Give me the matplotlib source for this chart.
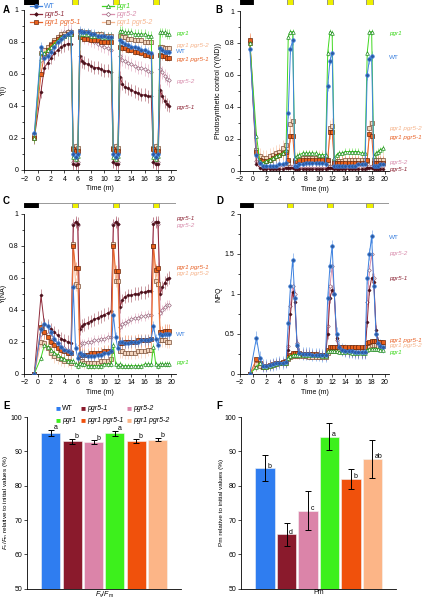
import numpy as np
import matplotlib
matplotlib.use('Agg')
import matplotlib.pyplot as plt
from matplotlib.patches import Rectangle
from matplotlib.lines import Line2D
from matplotlib.ticker import MultipleLocator
from matplotlib.colors import to_rgba

plt.rcParams['font.family'] = ['Liberation Sans', 'DejaVu Sans']
plt.rcParams['mathtext.fontset'] = 'custom'
plt.rcParams['mathtext.rm'] = 'Liberation Sans'
plt.rcParams['mathtext.it'] = 'Liberation Sans:italic'
plt.rcParams['font.size'] = 5
plt.rcParams['axes.linewidth'] = 0.6

# ---------------- data ----------------
time = [-0.5,
        0.5, 1, 1.5, 2, 2.5, 3, 3.5, 4, 4.5, 5,
        5.33, 5.67, 6,
        6.33, 6.67, 7, 7.5, 8, 8.5, 9, 9.5, 10, 10.5, 11,
        11.33, 11.67, 12,
        12.33, 12.67, 13, 13.5, 14, 14.5, 15, 15.5, 16, 16.5, 17,
        17.33, 17.67, 18,
        18.33, 18.67, 19, 19.33, 19.67]

genotypes = ['WT', 'pgr5-1', 'pgr5-2', 'pgr1', 'pgr1 pgr5-1', 'pgr1 pgr5-2']

# Y(I)
yI_wt = [0.23, 0.77, 0.70, 0.71, 0.74, 0.77, 0.80, 0.82, 0.84, 0.85, 0.86, 0.10, 0.08, 0.10,
         0.87, 0.86, 0.86, 0.86, 0.85, 0.85, 0.84, 0.84, 0.84, 0.83, 0.83, 0.10, 0.08, 0.10,
         0.81, 0.80, 0.79, 0.78, 0.77, 0.77, 0.76, 0.75, 0.75, 0.74, 0.73, 0.10, 0.08, 0.10,
         0.76, 0.75, 0.74, 0.74, 0.74]
yI_pgr1 = [0.20, 0.74, 0.73, 0.75, 0.77, 0.79, 0.81, 0.83, 0.84, 0.85, 0.85, 0.08, 0.07, 0.09,
           0.85, 0.85, 0.85, 0.85, 0.84, 0.84, 0.84, 0.84, 0.83, 0.83, 0.83, 0.08, 0.07, 0.09,
           0.87, 0.87, 0.86, 0.86, 0.86, 0.85, 0.85, 0.85, 0.85, 0.84, 0.84, 0.08, 0.07, 0.09,
           0.86, 0.86, 0.86, 0.85, 0.85]
yI_pgr5_1 = [0.20, 0.49, 0.64, 0.67, 0.70, 0.73, 0.75, 0.77, 0.78, 0.79, 0.79, 0.04, 0.03, 0.04,
             0.71, 0.68, 0.67, 0.66, 0.65, 0.64, 0.64, 0.63, 0.62, 0.62, 0.61, 0.05, 0.04, 0.04,
             0.58, 0.54, 0.52, 0.51, 0.50, 0.49, 0.48, 0.47, 0.47, 0.46, 0.46, 0.05, 0.04, 0.04,
             0.50, 0.46, 0.43, 0.41, 0.40]
yI_pgr5_2 = [0.20, 0.69, 0.70, 0.72, 0.75, 0.78, 0.81, 0.84, 0.86, 0.87, 0.87, 0.05, 0.04, 0.05,
             0.85, 0.84, 0.83, 0.82, 0.81, 0.80, 0.79, 0.78, 0.77, 0.76, 0.75, 0.05, 0.04, 0.05,
             0.71, 0.69, 0.68, 0.67, 0.66, 0.65, 0.64, 0.64, 0.63, 0.62, 0.61, 0.05, 0.04, 0.05,
             0.63, 0.61, 0.59, 0.57, 0.56]
yI_dbl1 = [0.20, 0.60, 0.72, 0.75, 0.78, 0.80, 0.82, 0.83, 0.84, 0.85, 0.85, 0.13, 0.12, 0.12,
           0.83, 0.83, 0.82, 0.82, 0.81, 0.81, 0.81, 0.80, 0.80, 0.80, 0.80, 0.13, 0.12, 0.12,
           0.77, 0.76, 0.76, 0.75, 0.75, 0.74, 0.74, 0.73, 0.72, 0.72, 0.71, 0.13, 0.12, 0.12,
           0.72, 0.71, 0.71, 0.70, 0.70]
yI_dbl2 = [0.22, 0.73, 0.75, 0.77, 0.79, 0.81, 0.83, 0.85, 0.85, 0.86, 0.86, 0.14, 0.15, 0.14,
           0.87, 0.86, 0.86, 0.86, 0.85, 0.85, 0.85, 0.85, 0.84, 0.84, 0.84, 0.14, 0.15, 0.14,
           0.84, 0.83, 0.83, 0.82, 0.82, 0.81, 0.81, 0.81, 0.80, 0.80, 0.80, 0.14, 0.15, 0.14,
           0.77, 0.77, 0.76, 0.76, 0.76]
yI_sd = [0.03, 0.04, 0.04, 0.03, 0.02, 0.02]

# Y(ND)
ynd_wt = [0.76, 0.10, 0.05, 0.03, 0.03, 0.03, 0.03, 0.03, 0.04, 0.04, 0.05, 0.36, 0.76, 0.82,
          0.03, 0.03, 0.04, 0.04, 0.05, 0.05, 0.05, 0.05, 0.05, 0.05, 0.04, 0.53, 0.69, 0.74,
          0.03, 0.03, 0.03, 0.03, 0.03, 0.03, 0.03, 0.03, 0.04, 0.04, 0.04, 0.60, 0.70, 0.72,
          0.03, 0.03, 0.03, 0.04, 0.04]
ynd_pgr1 = [0.80, 0.22, 0.06, 0.05, 0.06, 0.07, 0.08, 0.09, 0.10, 0.11, 0.13, 0.84, 0.87, 0.87,
            0.08, 0.09, 0.10, 0.11, 0.11, 0.11, 0.11, 0.11, 0.10, 0.10, 0.10, 0.74, 0.87, 0.86,
            0.08, 0.10, 0.11, 0.11, 0.12, 0.12, 0.12, 0.12, 0.12, 0.11, 0.11, 0.74, 0.87, 0.87,
            0.09, 0.11, 0.12, 0.13, 0.14]
ynd_pgr5_1 = [0.80, 0.04, 0.02, 0.01, 0.01, 0.01, 0.01, 0.01, 0.01, 0.01, 0.02, 0.02, 0.02, 0.02,
              0.01, 0.01, 0.01, 0.01, 0.01, 0.01, 0.01, 0.01, 0.01, 0.01, 0.01, 0.02, 0.02, 0.02,
              0.01, 0.01, 0.01, 0.01, 0.01, 0.01, 0.01, 0.01, 0.01, 0.01, 0.01, 0.02, 0.02, 0.02,
              0.01, 0.01, 0.01, 0.01, 0.01]
ynd_pgr5_2 = [0.80, 0.06, 0.03, 0.02, 0.02, 0.02, 0.02, 0.02, 0.03, 0.03, 0.03, 0.02, 0.03, 0.03,
              0.02, 0.02, 0.02, 0.02, 0.02, 0.02, 0.02, 0.02, 0.02, 0.02, 0.02, 0.02, 0.03, 0.03,
              0.02, 0.02, 0.02, 0.02, 0.02, 0.02, 0.02, 0.03, 0.03, 0.03, 0.03, 0.02, 0.03, 0.03,
              0.03, 0.03, 0.03, 0.03, 0.03]
ynd_dbl1 = [0.82, 0.12, 0.07, 0.06, 0.06, 0.07, 0.08, 0.09, 0.10, 0.11, 0.12, 0.07, 0.22, 0.22,
            0.06, 0.06, 0.07, 0.07, 0.07, 0.07, 0.07, 0.07, 0.07, 0.07, 0.07, 0.07, 0.24, 0.24,
            0.05, 0.05, 0.05, 0.05, 0.05, 0.05, 0.05, 0.05, 0.05, 0.05, 0.05, 0.07, 0.23, 0.22,
            0.05, 0.05, 0.05, 0.05, 0.05]
ynd_dbl2 = [0.80, 0.13, 0.09, 0.08, 0.08, 0.09, 0.10, 0.11, 0.12, 0.14, 0.16, 0.05, 0.29, 0.31,
            0.07, 0.07, 0.08, 0.08, 0.08, 0.08, 0.08, 0.08, 0.08, 0.08, 0.08, 0.05, 0.27, 0.28,
            0.06, 0.06, 0.06, 0.06, 0.07, 0.07, 0.07, 0.07, 0.07, 0.07, 0.07, 0.06, 0.27, 0.30,
            0.07, 0.07, 0.07, 0.07, 0.07]
ynd_sd = [0.03, 0.01, 0.01, 0.02, 0.04, 0.05]

# Y(NA)
yna_wt = [0.0, 0.28, 0.31, 0.30, 0.26, 0.22, 0.19, 0.17, 0.15, 0.14, 0.13, 0.54, 0.16, 0.10,
          0.13, 0.12, 0.12, 0.11, 0.11, 0.11, 0.12, 0.12, 0.13, 0.13, 0.14, 0.37, 0.23, 0.16,
          0.20, 0.20, 0.19, 0.19, 0.20, 0.20, 0.20, 0.21, 0.21, 0.21, 0.22, 0.30, 0.22, 0.18,
          0.25, 0.24, 0.25, 0.25, 0.25]
yna_pgr1 = [0.0, 0.10, 0.18, 0.17, 0.15, 0.13, 0.12, 0.10, 0.09, 0.08, 0.08, 0.08, 0.06, 0.05,
            0.07, 0.06, 0.06, 0.05, 0.05, 0.05, 0.05, 0.05, 0.06, 0.06, 0.06, 0.18, 0.06, 0.05,
            0.06, 0.05, 0.05, 0.05, 0.05, 0.05, 0.05, 0.05, 0.06, 0.06, 0.06, 0.17, 0.06, 0.05,
            0.06, 0.06, 0.06, 0.06, 0.06]
yna_pgr5_1 = [0.0, 0.49, 0.31, 0.30, 0.28, 0.26, 0.24, 0.22, 0.21, 0.20, 0.19, 0.93, 0.95, 0.94,
              0.28, 0.30, 0.31, 0.32, 0.33, 0.34, 0.35, 0.36, 0.37, 0.38, 0.39, 0.93, 0.95, 0.94,
              0.42, 0.46, 0.48, 0.49, 0.49, 0.50, 0.50, 0.51, 0.51, 0.52, 0.52, 0.94, 0.95, 0.95,
              0.50, 0.54, 0.57, 0.59, 0.60]
yna_pgr5_2 = [0.0, 0.25, 0.26, 0.25, 0.23, 0.21, 0.19, 0.17, 0.16, 0.15, 0.14, 0.94, 0.95, 0.93,
              0.18, 0.19, 0.19, 0.20, 0.20, 0.21, 0.21, 0.22, 0.22, 0.23, 0.23, 0.94, 0.95, 0.94,
              0.29, 0.31, 0.32, 0.33, 0.34, 0.35, 0.35, 0.36, 0.36, 0.37, 0.37, 0.95, 0.95, 0.94,
              0.38, 0.40, 0.42, 0.43, 0.43]
yna_dbl1 = [0.0, 0.29, 0.26, 0.23, 0.20, 0.18, 0.16, 0.15, 0.14, 0.13, 0.13, 0.80, 0.66, 0.66,
            0.12, 0.12, 0.12, 0.12, 0.13, 0.13, 0.13, 0.13, 0.14, 0.14, 0.14, 0.80, 0.64, 0.64,
            0.19, 0.19, 0.20, 0.20, 0.20, 0.20, 0.21, 0.21, 0.21, 0.21, 0.22, 0.80, 0.65, 0.66,
            0.26, 0.26, 0.27, 0.27, 0.27]
yna_dbl2 = [0.0, 0.20, 0.19, 0.16, 0.13, 0.11, 0.10, 0.09, 0.08, 0.08, 0.07, 0.81, 0.56, 0.55,
            0.08, 0.08, 0.07, 0.07, 0.07, 0.07, 0.07, 0.08, 0.08, 0.08, 0.09, 0.81, 0.58, 0.58,
            0.14, 0.14, 0.13, 0.13, 0.13, 0.13, 0.14, 0.14, 0.14, 0.15, 0.15, 0.80, 0.58, 0.56,
            0.21, 0.21, 0.21, 0.20, 0.20]
yna_sd = [0.03, 0.04, 0.03, 0.02, 0.04, 0.04]

# NPQ
npq_wt = [0.0, 0.45, 0.20, 0.10, 0.10, 0.11, 0.12, 0.13, 0.14, 0.14, 0.15, 0.64, 1.10, 1.43,
          0.95, 0.36, 0.26, 0.25, 0.25, 0.25, 0.24, 0.24, 0.24, 0.23, 0.23, 0.95, 1.35, 1.60,
          1.00, 0.50, 0.33, 0.30, 0.29, 0.28, 0.28, 0.27, 0.27, 0.27, 0.27, 1.20, 1.50, 1.72,
          1.10, 0.50, 0.38, 0.35, 0.34]
npq_pgr1 = [0.0, 0.08, 0.14, 0.09, 0.09, 0.10, 0.11, 0.12, 0.13, 0.13, 0.14, 0.20, 0.22, 0.23,
            0.24, 0.24, 0.24, 0.24, 0.24, 0.24, 0.23, 0.23, 0.23, 0.22, 0.22, 0.28, 0.28, 0.28,
            0.28, 0.28, 0.27, 0.27, 0.27, 0.27, 0.26, 0.26, 0.26, 0.26, 0.26, 0.30, 0.31, 0.31,
            0.31, 0.31, 0.31, 0.30, 0.30]
npq_pgr5_1 = [0.0, 0.10, 0.12, 0.09, 0.10, 0.11, 0.12, 0.13, 0.14, 0.14, 0.15, 0.30, 0.75, 1.02,
              0.90, 0.35, 0.26, 0.25, 0.25, 0.24, 0.24, 0.24, 0.24, 0.23, 0.23, 0.50, 0.95, 1.05,
              1.00, 0.45, 0.31, 0.29, 0.28, 0.27, 0.27, 0.27, 0.26, 0.26, 0.26, 0.65, 1.05, 1.20,
              1.15, 0.55, 0.40, 0.36, 0.35]
npq_pgr5_2 = [0.0, 0.12, 0.14, 0.10, 0.10, 0.11, 0.12, 0.13, 0.14, 0.14, 0.15, 0.35, 0.85, 1.10,
              1.00, 0.38, 0.26, 0.25, 0.25, 0.25, 0.24, 0.24, 0.24, 0.23, 0.23, 0.60, 1.10, 1.35,
              1.00, 0.42, 0.31, 0.29, 0.28, 0.28, 0.27, 0.27, 0.27, 0.26, 0.26, 0.90, 1.30, 1.50,
              1.20, 0.50, 0.38, 0.36, 0.35]
npq_dbl1 = [0.0, 0.18, 0.13, 0.09, 0.10, 0.11, 0.12, 0.13, 0.14, 0.15, 0.16, 0.21, 0.24, 0.26,
            0.26, 0.26, 0.26, 0.25, 0.25, 0.25, 0.25, 0.25, 0.24, 0.24, 0.24, 0.30, 0.33, 0.34,
            0.34, 0.34, 0.34, 0.33, 0.33, 0.33, 0.33, 0.33, 0.33, 0.33, 0.33, 0.38, 0.40, 0.41,
            0.41, 0.41, 0.40, 0.40, 0.40]
npq_dbl2 = [0.0, 0.12, 0.10, 0.08, 0.09, 0.10, 0.11, 0.12, 0.13, 0.13, 0.14, 0.18, 0.21, 0.22,
            0.22, 0.22, 0.22, 0.22, 0.22, 0.21, 0.21, 0.21, 0.21, 0.21, 0.21, 0.26, 0.28, 0.29,
            0.29, 0.29, 0.29, 0.29, 0.29, 0.29, 0.28, 0.28, 0.28, 0.28, 0.28, 0.32, 0.35, 0.36,
            0.36, 0.36, 0.35, 0.35, 0.35]
npq_sd = [0.08, 0.06, 0.06, 0.02, 0.02, 0.03]

# Fv/Fm and Pm (% of initial)
fvfm = [95.3, 92.9, 92.6, 95.3, 93.1, 93.4]
fvfm_sd = [0.9, 0.7, 0.6, 0.7, 0.6, 0.5]
fvfm_letters = ['a', 'b', 'b', 'a', 'b', 'b']
pm = [85.1, 65.8, 72.7, 94.3, 82.0, 87.8]
pm_sd = [3.7, 3.4, 5.7, 3.9, 3.0, 5.5]
pm_letters = ['b', 'd', 'c', 'a', 'b', 'ab']

dark_period = (-2, 0)
pulses = [(5.1, 6.1), (11.2, 12.2), (17.2, 18.2)]

# ---------------- styles ----------------
bar_colors = ['#2f7df0', '#8a1a2c', '#db84a9', '#3df01c', '#f0510c', '#fcb587']
line_colors = ['#3d82e0', '#8f2a3a', '#d98fae', '#40d820', '#e8642a', '#f6b48c']
styles = [
    dict(marker='o', mfc='#2d5aa0', mec='#3d82e0', ms=2.6),
    dict(marker='D', mfc='#4a0f1a', mec='#4a0f1a', ms=1.6),
    dict(marker='D', mfc='white', mec='#9a6a80', ms=1.9),
    dict(marker='^', mfc='white', mec='#1a8a1a', ms=2.6),
    dict(marker='s', mfc='#e8601c', mec='#6a2a10', ms=2.6),
    dict(marker='s', mfc='#f4d6bf', mec='#7a5038', ms=2.8),
]
draw_order = [2, 1, 5, 4, 3, 0]

W, H = 426.0, 600.0
fig = plt.figure(figsize=(4.26, 6.0), dpi=100)


def px_axes(x0, y0, x1, y1):
    return fig.add_axes([x0 / W, 1 - y1 / H, (x1 - x0) / W, (y1 - y0) / H])


def light_bar(x0, y0, x1, y1):
    b = px_axes(x0, y0, x1, y1)
    b.set_xlim(-2, 20.7)
    b.set_ylim(0, 1)
    b.axis('off')
    b.add_patch(Rectangle((-2, 0), 22.7, 1, fc='white', ec='#888888', lw=0.6))
    b.add_patch(Rectangle((dark_period[0], 0), dark_period[1] - dark_period[0], 1, fc='black', ec='black', lw=0.6))
    for s, e in pulses:
        b.add_patch(Rectangle((s, 0), e - s, 1, fc='#eef000', ec='#888888', lw=0.6))


def time_panel(ax, series, sd, ymax, ystep, yminor, ylabel, labels):
    for i in draw_order:
        st = styles[i]
        ax.errorbar(time, series[i], yerr=sd[i], color=line_colors[i], lw=0.7,
                    ecolor=to_rgba(line_colors[i], 0.55), elinewidth=0.6, capsize=0,
                    marker=st['marker'], ms=st['ms'], mfc=st['mfc'], mec=st['mec'], mew=0.5,
                    zorder=3)
    ax.set_xlim(-2, 20.7)
    ax.set_ylim(0, ymax)
    ax.set_xticks(range(-2, 21, 2))
    ax.yaxis.set_major_locator(MultipleLocator(ystep))
    ax.yaxis.set_minor_locator(MultipleLocator(yminor))
    ax.yaxis.set_major_formatter(plt.FuncFormatter(lambda v, p: ('%g' % v)))
    for sp in ['top', 'right']:
        ax.spines[sp].set_visible(False)
    ax.tick_params(length=2, width=0.5, labelsize=5, pad=2)
    ax.tick_params(which='minor', length=1.2, width=0.5)
    ax.set_xlabel('Time (m)', fontsize=5, labelpad=2)
    ax.set_ylabel(ylabel, fontsize=5, labelpad=1.5)
    for text, y, ci in labels:
        ax.text(1.0, y, text, transform=ax.get_yaxis_transform(), color=line_colors[ci],
                fontsize=4.6, style='normal' if text == 'WT' else 'italic', ha='left', va='center')


# A
axA = px_axes(24.3, 10.0, 176.0, 170.0)
light_bar(24.3, -1, 176.0, 4.5)
time_panel(axA, [yI_wt, yI_pgr5_1, yI_pgr5_2, yI_pgr1, yI_dbl1, yI_dbl2], yI_sd, 1.0, 0.2, 0.1,
           'Y(I)', [('pgr1', 0.856, 3), ('pgr1 pgr5-2', 0.775, 5), ('WT', 0.74, 0),
                    ('pgr1 pgr5-1', 0.69, 4), ('pgr5-2', 0.556, 2), ('pgr5-1', 0.39, 1)])

# legend for A (manual)
leg_entries = [(0, 30, 6), (1, 30, 14), (4, 30, 22), (3, 102, 6), (2, 102, 14), (5, 102, 22)]
for i, x0, y in leg_entries:
    st = styles[i]
    fig.add_artist(Line2D([x0 / W, (x0 + 6) / W, (x0 + 12) / W], [1 - y / H] * 3,
                          transform=fig.transFigure, color=line_colors[i], lw=0.9,
                          marker=st['marker'], ms=st['ms'] + 0.3, mfc=st['mfc'], mec=st['mec'],
                          mew=0.5, markevery=[1]))
    fig.text((x0 + 14) / W, 1 - y / H, genotypes[i], color=line_colors[i], fontsize=5,
             style='normal' if i == 0 else 'italic', va='center')

# B
axB = px_axes(240.0, 11.0, 389.4, 170.7)
light_bar(240.0, -1, 389.4, 4.5)
time_panel(axB, [ynd_wt, ynd_pgr5_1, ynd_pgr5_2, ynd_pgr1, ynd_dbl1, ynd_dbl2], ynd_sd, 1.0, 0.2, 0.1,
           'Photosynthetic control (Y(ND))',
           [('pgr1', 0.86, 3), ('WT', 0.71, 0), ('pgr1 pgr5-2', 0.267, 5),
            ('pgr1 pgr5-1', 0.21, 4), ('pgr5-2', 0.05, 2), ('pgr5-1', 0.006, 1)])

# C
axC = px_axes(24.3, 214.0, 176.0, 373.7)
light_bar(24.3, 202.7, 176.0, 208.3)
time_panel(axC, [yna_wt, yna_pgr5_1, yna_pgr5_2, yna_pgr1, yna_dbl1, yna_dbl2], yna_sd, 1.0, 0.2, 0.1,
           'Y(NA)', [('pgr5-1', 0.97, 1), ('pgr5-2', 0.925, 2), ('pgr1 pgr5-1', 0.668, 4),
                     ('pgr1 pgr5-2', 0.625, 5), ('WT', 0.243, 0), ('pgr1', 0.073, 3)])

# D
axD = px_axes(240.0, 214.0, 389.4, 373.7)
light_bar(240.0, 202.7, 389.4, 208.3)
time_panel(axD, [npq_wt, npq_pgr5_1, npq_pgr5_2, npq_pgr1, npq_dbl1, npq_dbl2], npq_sd, 2.0, 0.5, 0.25,
           'NPQ', [('WT', 1.71, 0), ('pgr5-2', 1.5, 2), ('pgr5-1', 1.19, 1),
                   ('pgr1 pgr5-1', 0.42, 4), ('pgr1 pgr5-2', 0.35, 5), ('pgr1', 0.27, 3)])


def bar_panel(ax, vals, sds, letters, xlabel, ylabel, letter_dy):
    x = np.arange(len(vals))
    ax.bar(x, vals, width=0.9, color=bar_colors, edgecolor='#f4f4f4', lw=0.4, zorder=2)
    ax.errorbar(x, vals, yerr=sds, fmt='none', ecolor='black', elinewidth=0.7, capsize=2,
                capthick=0.7, zorder=3)
    for xi, v, s, l in zip(x, vals, sds, letters):
        ax.text(xi + 0.12, v + s * letter_dy + 0.6, l, fontsize=5, ha='left', va='center')
    ax.set_xlim(-1.12, 6.1)
    ax.set_ylim(50, 100)
    ax.set_yticks(range(50, 101, 10))
    ax.set_xticks([])
    for sp in ['top', 'right']:
        ax.spines[sp].set_visible(False)
    ax.tick_params(length=2, width=0.5, labelsize=5, pad=1.5)
    ax.set_xlabel(xlabel, fontsize=5, labelpad=0.5)
    ax.set_ylabel(ylabel, fontsize=4.6, labelpad=0.5)


axE = px_axes(27.0, 417.0, 181.0, 588.7)
bar_panel(axE, fvfm, fvfm_sd, fvfm_letters, r'$F_{\rm v}/F_{\rm m}$',
          r'$F_{\rm v}/F_{\rm m}$ relative to initial values (%)', 1.0)

axF = px_axes(241.0, 417.0, 396.0, 588.7)
bar_panel(axF, pm, pm_sd, pm_letters, 'Pm', 'Pm relative to initial values (%)', 0.0)

# legend for E (manual)
e_leg = [(0, 58, 408.7), (1, 83, 408.7), (2, 129, 408.7), (3, 58, 421), (4, 83, 421), (5, 129, 421)]
for i, x0, y in e_leg:
    fig.text(x0 / W, 1 - y / H, '\u25a0', color=bar_colors[i], fontsize=6, va='center', ha='center')
    fig.text((x0 + 4) / W, 1 - y / H, genotypes[i], fontsize=5,
             style='normal' if i == 0 else 'italic', va='center')

# panel letters
for lab, x, y in [('A', 3, 10), ('B', 215, 10), ('C', 3, 201), ('D', 216, 201), ('E', 3, 406), ('F', 216, 406)]:
    fig.text(x / W, 1 - y / H, lab, fontsize=7, fontweight='bold', va='center', ha='left')

fig.savefig('out.png', dpi=100)
